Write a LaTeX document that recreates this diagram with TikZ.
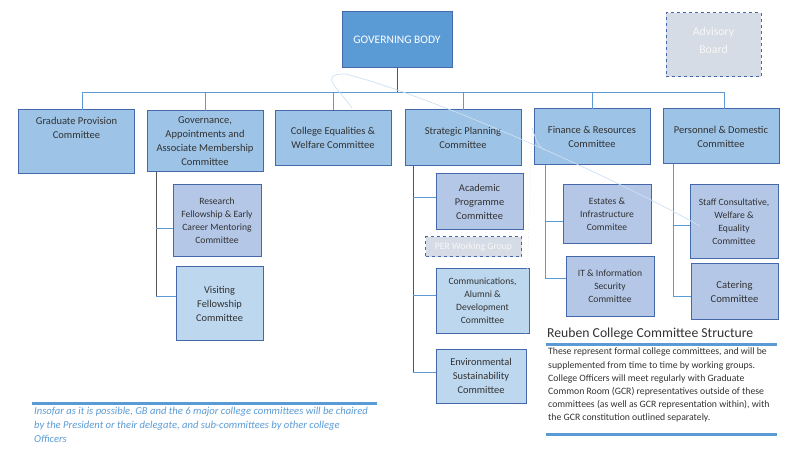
\documentclass[tikz,border=0pt]{standalone}
\usepackage{fontspec}
\setmainfont{Carlito}
\usepackage{tikz}

\definecolor{gbfill}{RGB}{91,155,213}
\definecolor{topfill}{RGB}{157,195,230}
\definecolor{subfill}{RGB}{180,199,231}
\definecolor{litefill}{RGB}{189,215,238}
\definecolor{advfill}{RGB}{214,220,229}
\definecolor{boxline}{RGB}{68,104,170}
\definecolor{linkblue}{RGB}{91,155,213}
\definecolor{linkgray}{RGB}{85,85,85}
\definecolor{txt}{RGB}{50,50,50}
\definecolor{ghost}{RGB}{205,224,242}

\begin{document}
\begin{tikzpicture}[x=1pt,y=-1pt,
    box/.style={draw=boxline,line width=1pt,inner sep=0pt,outer sep=0pt,align=center,text=txt},
    topbox/.style={box,fill=topfill,minimum width=116pt,font=\fontsize{10.5}{14}\selectfont},
    subbox/.style={box,fill=subfill,font=\fontsize{9.6}{13}\selectfont},
    litebox/.style={box,fill=litefill,font=\fontsize{10.4}{14}\selectfont},
    ghostbox/.style={draw=boxline,dashed,line width=1pt,fill=advfill,inner sep=0pt,align=center,text=white!94!gray},
    bluelink/.style={draw=linkblue,line width=0.9pt},
    graylink/.style={draw=linkgray,line width=0.9pt},
    bar/.style={draw=linkblue,line width=3pt}]
    \useasboundingbox (0,0) rectangle (800,462);

    % governing body and advisory board
    \node[box,fill=gbfill,text=white,minimum width=110pt,minimum height=56pt,font=\fontsize{11.5}{14}\selectfont] (gb) at (397,40) {GOVERNING BODY};
    \node[ghostbox,minimum width=95pt,minimum height=64pt,text depth=10pt,font=\fontsize{11.8}{18}\selectfont] (adv) at (713.5,45) {Advisory\\Board};

    % the six committees
    \node[topbox,minimum height=64pt] (gpc) at (76.5,142) {Graduate Provision\\Committee\\\mbox{}\\\mbox{}};
    \node[topbox,minimum height=61pt] (gam) at (205,141.5) {Governance,\\Appointments and\\Associate Membership\\Committee};
    \node[topbox,minimum height=55pt] (cew) at (333,138) {College Equalities \&\\Welfare Committee};
    \node[topbox,minimum height=56pt] (spc) at (463,138) {Strategic Planning\\Committee};
    \node[topbox,minimum height=56pt] (frc) at (592,137) {Finance \& Resources\\Committee};
    \node[topbox,minimum height=55pt] (pdc) at (721,136.5) {Personnel \& Domestic\\Committee};

    % sub-committees
    \node[subbox,minimum width=88pt,minimum height=72pt] (rfe) at (217,221) {Research\\Fellowship \& Early\\Career Mentoring\\Committee};
    \node[litebox,minimum width=87pt,minimum height=74pt] (vfc) at (219.5,303.5) {Visiting\\Fellowship\\Committee};
    \node[subbox,minimum width=87pt,minimum height=56pt,font=\fontsize{10.4}{14}\selectfont] (apc) at (479.5,202) {Academic\\Programme\\Committee};
    \node[ghostbox,minimum width=96pt,minimum height=20pt,font=\fontsize{9.7}{12}\selectfont] (per) at (473.5,247) {PER Working Group};
    \node[litebox,minimum width=93pt,minimum height=64pt,font=\fontsize{9.6}{13}\selectfont] (cad) at (482.5,301) {Communications,\\Alumni \&\\Development\\Committee};
    \node[litebox,minimum width=90pt,minimum height=54pt] (esc) at (481,376) {Environmental\\Sustainability\\Committee};
    \node[subbox,minimum width=88pt,minimum height=59pt] (eic) at (607,214.5) {Estates \&\\Infrastructure\\Commitee};
    \node[subbox,minimum width=88pt,minimum height=59pt] (iti) at (610,286.5) {IT \& Information\\Security\\Committee};
    \node[subbox,minimum width=88pt,minimum height=74pt] (scw) at (734,222) {Staff Consultative,\\Welfare \&\\Equality\\Committee};
    \node[subbox,minimum width=87pt,minimum height=55pt,font=\fontsize{10.6}{14}\selectfont] (cat) at (734.5,291.5) {Catering\\Committee};

    % bus under the governing body
    \coordinate (busL) at (82,92);
    \coordinate (busR) at (724,92);
    \draw[graylink] (gb.south) -- (gb.south |- busL);
    \draw[bluelink] (busL) -- (busR);
    \draw[bluelink] (busL) -- (busL |- gpc.north);
    \foreach \n in {gam,cew,spc,frc} \draw[bluelink] (\n.north |- busL) -- (\n.north);
    \draw[bluelink] (busR) -- (busR |- pdc.north);

    % junctions of the sub-committee links
    \coordinate (G1) at (156,228);
    \coordinate (G2) at (156,296);
    \coordinate (S1) at (413,197);
    \coordinate (S2) at (413,295);
    \coordinate (S3) at (413,372);
    \coordinate (F1) at (545,221);
    \coordinate (F2) at (545,278);
    \coordinate (P1) at (673,225);
    \coordinate (P2) at (673,296);

    \draw[graylink] (G1 |- gam.south) -- (G2);
    \draw[graylink] (S1 |- spc.south) -- (S3);
    \draw[bluelink] (F1 |- frc.south) -- (F2);
    \draw[bluelink] (P1 |- pdc.south) -- (P2);
    \draw[bluelink] (G1) -- (G1 -| rfe.west);
    \draw[bluelink] (G2) -- (G2 -| vfc.west);
    \draw[bluelink] (S1) -- (S1 -| apc.west);
    \draw[bluelink] (S2) -- (S2 -| cad.west);
    \draw[bluelink] (S3) -- (S3 -| esc.west);
    \draw[bluelink] (F1) -- (F1 -| eic.west);
    \draw[bluelink] (F2) -- (F2 -| iti.west);
    \draw[bluelink] (P1) -- (P1 -| scw.west);
    \draw[bluelink] (P2) -- (P2 -| cat.west);

    % faint stray strokes
    \draw[ghost,line width=0.7pt] (352,108) .. controls (338,88) and (318,74) .. (345,74) .. controls (420,92) and (600,170) .. (700,226);
    \draw[ghost,line width=0.7pt] (532,128) .. controls (536,140) and (538,146) .. (544,150);
    \draw[ghost,line width=0.6pt,dotted] (532,128) -- (525,345);

    % notes
    \node[anchor=south west,inner sep=0pt,text=txt,font=\fontsize{13.7}{15}\selectfont] (title) at (547,340) {Reuben College Committee Structure};
    \coordinate (barA) at (546,344);
    \coordinate (barB) at (777,344);
    \draw[bar] (barA) -- (barB);
    \node[anchor=north west,inner sep=0pt,align=left,text=txt,font=\fontsize{9.75}{13.2}\selectfont] (note) at (548,348)
        {These represent formal college committees, and will be\\supplemented from time to time by working groups.\\College Officers will meet regularly with Graduate\\Common Room (GCR) representatives outside of these\\committees (as well as GCR representation within), with\\the GCR constitution outlined separately.};
    \coordinate (barC) at (546,434);
    \draw[bar] (barC) -- (barC -| barB);

    \coordinate (barD) at (32,403);
    \coordinate (barE) at (377,403);
    \draw[bar] (barD) -- (barE);
    \node[anchor=north west,inner sep=0pt,align=left,text=linkblue,font=\fontsize{10.6}{14}\selectfont\itshape] (chair) at (34,407)
        {Insofar as it is possible, GB and the 6 major college committees will be chaired\\by the President or their delegate, and sub-committees by other college\\Officers};
\end{tikzpicture}
\end{document}
